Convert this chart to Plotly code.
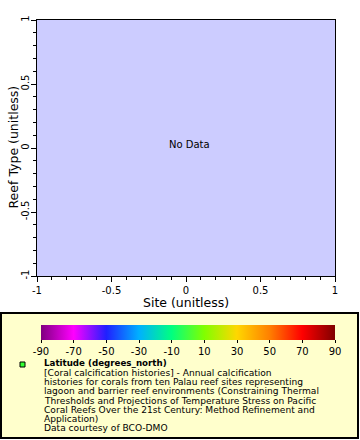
import plotly.graph_objects as go

# Data (the reference shows "No Data": empty series)
site = []
reef_type = []
latitude = []

axis_ticks = [-1, -0.5, 0, 0.5, 1]
axis_ticktext = ["-1", "-0.5", "0", "0.5", "1"]
cbar_ticks = [-90, -70, -50, -30, -10, 10, 30, 50, 70, 90]
x_title = "Site (unitless)"
y_title = "Reef Type (unitless)"
legend_title = "Latitude (degrees_north)"
legend_lines = [
    "[Coral calcification histories] - Annual calcification",
    "histories for corals from ten Palau reef sites representing",
    "lagoon and barrier reef environments (Constraining Thermal",
    "Thresholds and Projections of Temperature Stress on Pacific",
    "Coral Reefs Over the 21st Century: Method Refinement and",
    "Application)",
    "Data courtesy of BCO-DMO",
]

W, H = 360, 440
L, R, T, B = 37, 335, 20, 276  # plot area in pixels
pw, ph = R - L, B - T

def px(x):
    return (x - L) / pw

def py(y):
    return (B - y) / ph

FONT = "DejaVu Sans"
colorscale = [
    [0.0, "#800080"], [0.111, "#ff00ff"], [0.222, "#2020ff"],
    [0.333, "#00b0ff"], [0.444, "#00ff80"], [0.555, "#80ff00"],
    [0.666, "#ffd700"], [0.777, "#ff8000"], [0.888, "#ff0000"],
    [1.0, "#800000"],
]

fig = go.Figure()
fig.add_trace(go.Scatter(
    x=site if site else [None], y=reef_type if reef_type else [None],
    mode="markers", showlegend=False, hoverinfo="skip",
    marker=dict(
        color=latitude if latitude else [0], cmin=-90, cmax=90,
        colorscale=colorscale, showscale=True,
        colorbar=dict(
            orientation="h", x=px(41), xanchor="left", y=py(325), yanchor="top",
            xref="paper", yref="paper",
            len=294, lenmode="pixels", thickness=15, thicknessmode="pixels",
            xpad=0, ypad=0, outlinewidth=0,
            tickvals=cbar_ticks, ticktext=[str(v) for v in cbar_ticks],
            ticks="outside", ticklen=3, tickcolor="black",
            tickfont=dict(family=FONT, size=10, color="black"),
        ),
    ),
))

axis_common = dict(
    range=[-1, 1], showgrid=False, zeroline=False, automargin=False,
    showline=True, linecolor="black", linewidth=1, mirror=True,
    ticks="outside", ticklen=5, tickcolor="black", tickwidth=1,
    tickmode="array", tickvals=axis_ticks, ticktext=axis_ticktext,
    minor=dict(ticks="outside", ticklen=3, tickmode="linear", tick0=-1, dtick=0.1, tickcolor="black"),
    tickfont=dict(family=FONT, size=10, color="black"),
)

fig.update_layout(
    width=W, height=H,
    margin=dict(l=L, r=W - R, t=T, b=H - B, pad=0),
    paper_bgcolor="white", plot_bgcolor="#ccccff",
    xaxis=dict(**axis_common),
    yaxis=dict(**axis_common, tickangle=-90, ticklabelstandoff=-2),
    showlegend=False,
)

shapes = [
    dict(type="rect", xref="paper", yref="paper", x0=px(1), x1=px(358), y0=py(313), y1=py(438),
         fillcolor="#ffffcc", line=dict(color="black", width=2), layer="below"),
    dict(type="rect", xref="paper", yref="paper", x0=px(20), x1=px(25), y0=py(362), y1=py(367),
         fillcolor="#33ff33", line=dict(color="black", width=1)),
]
fig.update_layout(shapes=shapes)

title_font = dict(family=FONT, size=12.5, color="black")
annotations = [
    dict(text=x_title, x=px(186), y=py(302), xref="paper", yref="paper", showarrow=False,
         font=title_font, xanchor="center", yanchor="middle"),
    dict(text=y_title, x=px(12.5), y=py(147), xref="paper", yref="paper", showarrow=False,
         font=title_font, xanchor="center", yanchor="middle", textangle=-90),
    dict(text="No Data", x=px(189.5), y=py(144), xref="paper", yref="paper",
         showarrow=False, font=dict(family=FONT, size=10, color="black"), xanchor="center", yanchor="middle"),
    dict(text="<b>" + legend_title + "</b>", x=px(42), y=py(363.4), xref="paper", yref="paper",
         showarrow=False, font=dict(family=FONT, size=8.7, color="black"), xanchor="left", yanchor="middle"),
]
for i, line in enumerate(legend_lines):
    annotations.append(dict(text=line, x=px(42), y=py(372.9 + 9.25 * i), xref="paper", yref="paper",
                            showarrow=False, font=dict(family=FONT, size=9.1, color="black"),
                            xanchor="left", yanchor="middle"))
fig.update_layout(annotations=annotations)

fig.write_html("out.html")
